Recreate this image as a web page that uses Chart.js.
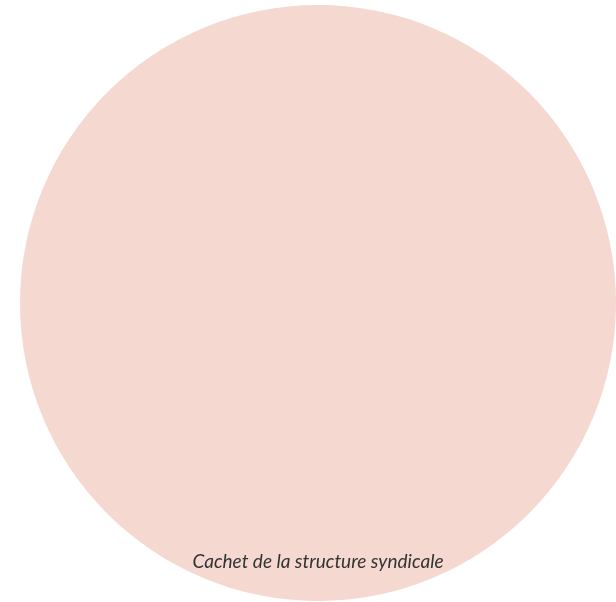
<!DOCTYPE html>
<html lang="fr">
<head>
    <meta charset="UTF-8">
    <title>Cachet de la structure syndicale</title>
    <script src="https://cdn.jsdelivr.net/npm/chart.js"></script>
    <style>
        html, body { margin: 0; padding: 0; background: #fff; overflow: hidden; }
        #wrap { position: absolute; left: 0; top: 0; width: 616px; height: 602px; }
    </style>
</head>
<body>
    <div id="wrap"><canvas id="stamp"></canvas></div>

    <script>
        // one slice only: the stamp area
        var labels = ['Cachet de la structure syndicale'];
        var values = [1];
        var caption = 'Cachet de la structure syndicale';

        // caption written inside the circle, near the bottom
        var captionPlugin = {
            id: 'caption',
            afterDraw: function(chart) {
                var ctx = chart.ctx;
                var arc = chart.getDatasetMeta(0).data[0];
                ctx.save();
                ctx.font = 'italic 19px Lato';
                ctx.fillStyle = '#333333';
                ctx.textAlign = 'center';
                ctx.textBaseline = 'alphabetic';
                ctx.fillText(caption, arc.x, arc.y + arc.outerRadius - 33);
                ctx.restore();
            }
        };

        document.addEventListener('DOMContentLoaded', function() {
            var ctx = document.getElementById('stamp').getContext('2d');
            new Chart(ctx, {
                type: 'pie',
                data: {
                    labels: labels,
                    datasets: [{
                        data: values,
                        backgroundColor: '#f5d8cf',
                        borderWidth: 0
                    }]
                },
                options: {
                    responsive: true,
                    maintainAspectRatio: false,
                    animation: false,
                    layout: { padding: { left: 20, right: 0, top: 5, bottom: 1 } },
                    plugins: {
                        legend: { display: false },
                        tooltip: { enabled: false }
                    }
                },
                plugins: [captionPlugin]
            });
        });
    </script>
</body>
</html>
